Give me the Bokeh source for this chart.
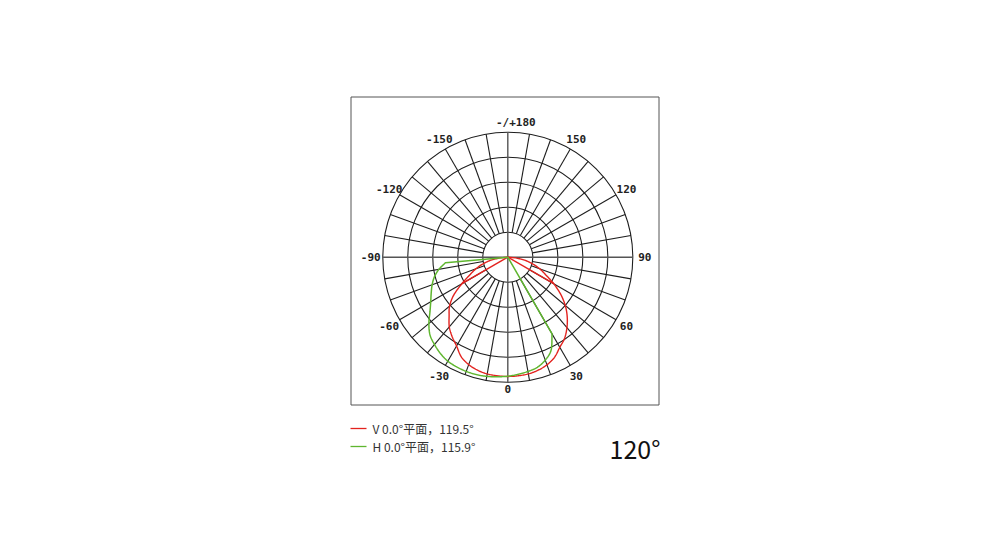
import numpy as np
from bokeh.plotting import figure
from bokeh.models import Range1d
from bokeh.core.properties import value
from bokeh.embed import file_html
from bokeh.resources import INLINE

# ---- data (relative intensity, % of outer ring) ----
red_angles = [-90, -85, -80, -75, -70, -65, -60, -55, -50, -45, -40, -35, -30, -25, -20, -15, -10, -5,
              0, 5, 10, 15, 20, 25, 30, 35, 40, 45, 50, 55, 60, 65, 70, 75, 80, 85, 90]
red_values = [0, 6.4, 13.6, 20.4, 27.2, 33.6, 42.4, 52.8, 60.8, 66.4, 72.8, 77.6, 82.0, 88.0, 91.4, 93.6, 94.8, 95.2,
              95.4, 95.2, 94.8, 93.6, 91.6, 88.4, 83.2, 79.2, 73.6, 67.2, 60.0, 51.6, 42.4, 33.6, 27.2, 20.4, 13.6, 6.4, 0]
red_ray_angles = [-60, 60]

green_angles = [-90, -85, -80, -75, -70, -65, -60, -55, -50, -45, -40, -35, -30, -25, -20, -15, -10, -5,
                0, 5, 10, 15, 20, 25, 30, 35]
green_values = [0, 50.0, 56.0, 60.8, 64.4, 67.6, 71.2, 76.0, 82.4, 88.0, 91.2, 94.0, 96.0, 96.8, 97.2, 97.2, 96.8, 96.0,
                95.2, 94.0, 92.8, 91.2, 87.6, 82.0, 70.8, 0]

ring_values = [20, 40, 60, 80, 100]
spoke_step = 10
tick_angles = [-150, -120, -90, -60, -30, 0, 30, 60, 90, 120, 150, 180]
tick_labels = ["-150", "-120", "-90", "-60", "-30", "0", "30", "60", "90", "120", "150", "-/+180"]

legend_labels = ["V 0.0°平面，119.5°", "H 0.0°平面，115.9°"]
title_text = "120°"

RED = "#e3221e"
GREEN = "#5fb62f"
GRID = "#1e1e1e"


def to_xy(ang, r):
    a = np.radians(np.asarray(ang, dtype=float))
    r = np.asarray(r, dtype=float)
    return r * np.sin(a), -r * np.cos(a)


def smooth_path(ang, r, n=10):
    """Catmull-Rom through the measured points; straight segments to the centre."""
    x, y = to_xy(ang, r)
    pts = np.column_stack([x, y])
    r = np.asarray(r, dtype=float)
    out = []
    i = 0
    N = len(pts)
    while i < N:
        if r[i] == 0:
            out.append(pts[i])
            i += 1
            continue
        j = i
        while j + 1 < N and r[j + 1] > 0:
            j += 1
        run = pts[i:j + 1]
        if len(run) < 3:
            out.extend(run)
        else:
            ext = np.vstack([2 * run[0] - run[1], run, 2 * run[-1] - run[-2]])
            for k in range(1, len(ext) - 2):
                p0, p1, p2, p3 = ext[k - 1], ext[k], ext[k + 1], ext[k + 2]
                for t in np.linspace(0, 1, n, endpoint=False):
                    t2, t3 = t * t, t * t * t
                    out.append(0.5 * ((2 * p1) + (-p0 + p2) * t + (2 * p0 - 5 * p1 + 4 * p2 - p3) * t2
                                      + (-p0 + 3 * p1 - 3 * p2 + p3) * t3))
            out.append(run[-1])
        i = j + 1
    out = np.array(out)
    return out[:, 0], out[:, 1]


# ---- figure: 1 unit = 1.25 px, centre of polar plot at page (507.3, 256.7) ----
W, H = 997, 542
S = 1.25
cx, cy = 507.3, 256.7
p = figure(width=W, height=H, output_backend="svg", toolbar_location=None,
           x_axis_type=None, y_axis_type=None, min_border=0,
           x_range=Range1d(-cx / S, (W - cx) / S), y_range=Range1d(-(H - cy) / S, cy / S))
p.outline_line_color = None
p.grid.visible = False
p.background_fill_color = "white"


def px(xp):  # page x -> data
    return (xp - cx) / S


def py(yp):  # page y -> data
    return (cy - yp) / S


# frame box
p.quad(left=[px(350.5)], right=[px(658.5)], top=[py(96.5)], bottom=[py(404.5)],
       fill_color=None, line_color="#555555", line_width=1)

# rings
p.circle(x=[0] * len(ring_values), y=[0] * len(ring_values), radius=ring_values,
         fill_color=None, line_color=GRID, line_width=1.1)

# spokes
sp = [a for a in range(-170, 181, spoke_step) if a % 90 != 0]
x0, y0 = to_xy(sp, [ring_values[0]] * len(sp))
x1, y1 = to_xy(sp, [ring_values[-1]] * len(sp))
p.segment(x0=x0, y0=y0, x1=x1, y1=y1, line_color=GRID, line_width=1.1)
# main axes through centre
R = ring_values[-1]
p.segment(x0=[-R, 0], y0=[0, -R], x1=[R, 0], y1=[0, R], line_color="#555555", line_width=1.4)

# tick labels
lab_r = []
for a in tick_angles:
    lab_r.append(105.6 if a == 0 else (108 if a == 180 else 109.6))
lx, ly = to_xy(tick_angles, lab_r)
lx = [x + (6.4 if a == 180 else 0) for x, a in zip(lx, tick_angles)]
p.text(x=lx, y=ly, text=tick_labels, text_font=value("DejaVu Sans Mono"), text_font_size="11px",
       text_font_style="bold", text_color="#222222", text_align="center", text_baseline="middle")

# curves
rx, ry = smooth_path(red_angles, red_values)
p.line(rx, ry, line_color=RED, line_width=1.4)
px_r, py_r = to_xy(red_angles, red_values)
ray_idx = [red_angles.index(a) for a in red_ray_angles]
p.segment(x0=[0] * len(ray_idx), y0=[0] * len(ray_idx), x1=px_r[ray_idx], y1=py_r[ray_idx],
          line_color=RED, line_width=1.4)

gx, gy = smooth_path(green_angles, green_values)
p.line(gx, gy, line_color=GREEN, line_width=1.5)

# legend
leg_y = [py(428), py(446)]
p.segment(x0=[px(350)] * 2, y0=leg_y, x1=[px(366)] * 2, y1=leg_y, line_color=[RED, GREEN], line_width=1.3)
p.text(x=[px(372)] * 2, y=leg_y, text=legend_labels, text_font=value("Noto Sans CJK SC"),
       text_font_size="12px", text_color="#333333", text_baseline="middle", text_align="left")

p.text(x=[px(609)], y=[py(447)], text=[title_text], text_font=value("Noto Sans CJK SC"),
       text_font_size="25px", text_color="#111111", text_baseline="alphabetic", text_align="left")

open("out.html", "w").write(file_html(p, INLINE))
